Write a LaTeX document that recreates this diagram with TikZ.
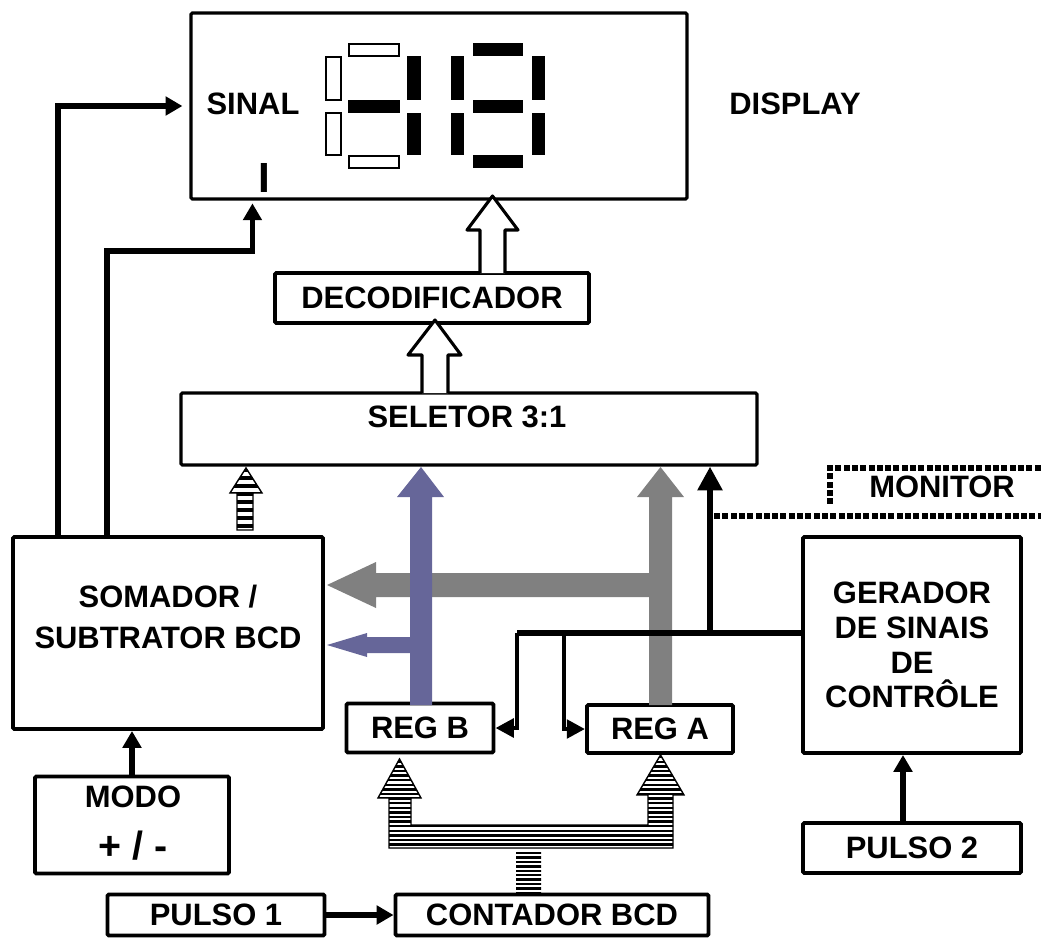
\documentclass[tikz,border=0pt]{standalone}
\usepackage{fontspec}
\setmainfont{Liberation Sans}
\usetikzlibrary{arrows.meta,calc}
\definecolor{bbus}{HTML}{666699}
\definecolor{abus}{HTML}{808080}

\begin{document}
\begin{tikzpicture}[x=0.025cm,y=-0.025cm,
  font=\bfseries\fontsize{22}{25}\selectfont,
  box/.style={draw,line width=2.8pt,rounded corners=1pt,fill=white,inner sep=0pt,align=center},
  sz/.style 2 args={minimum width=#1*0.025cm,minimum height=#2*0.025cm},
  conn/.style={line width=4.2pt,-{Triangle[length=12pt,width=13pt]}},
  ctlarr/.style={line width=3.2pt,-{Triangle[length=13pt,width=13pt]}},
  hollow/.style={draw,line width=2.2pt,fill=white,line join=round}]
  \useasboundingbox (0,0) rectangle (1041,942);

  % Display with the two digits
  \node[box,sz={496}{186},line width=2.2pt] (disp) at (439,106) {};
  \node (sinal) at (253,104) {SINAL};
  \node (sinbar) at (264,178) {\fontsize{30}{30}\selectfont I};
  \node (disptxt) at (795,104) {DISPLAY};
  \foreach \xa/\ya/\xb/\yb in {349/44/399/56, 326/57/341/100, 326/113/341/155, 349/156/399/168}
    \draw[line width=1.4pt] (\xa,\ya) rectangle (\xb,\yb);
  \foreach \xa/\ya/\xb/\yb in {
    348/100/400/113, 407/56/421/100, 407/113/421/155,
    473/43/523/56, 451/56/464/100, 532/56/545/100, 473/100/523/113,
    451/113/464/155, 532/113/545/155, 473/155/523/168}
    \fill (\xa,\ya) rectangle (\xb,\yb);

  % Blocks
  \node[box,sz={314}{50}] (dec) at (432,298) {DECODIFICADOR};
  \node[box,sz={576}{72},line width=2.2pt] (sel) at (469,429) {};
  \node (seltxt) at (467,417) {SELETOR 3:1};
  \node[box,sz={310}{192}] (soma) at (168,633) {};
  \node[align=center,font=\bfseries\fontsize{22}{29}\selectfont] (somatxt) at (168,617) {SOMADOR /\\SUBTRATOR BCD};
  \node[box,sz={147}{49}] (regb) at (420,728) {REG B};
  \node[box,sz={146}{48}] (rega) at (660,729) {REG A};
  \node[box,sz={194}{97}] (modo) at (132,825) {};
  \node (modotxt) at (133,797) {MODO};
  \node (modosig) at (133,846) {\fontsize{28}{28}\selectfont + / -};
  \node[box,sz={217}{41}] (p1) at (216,915) {PULSO 1};
  \node[box,sz={313}{41}] (cont) at (552,915) {CONTADOR BCD};
  \node[box,sz={218}{216},font=\bfseries\fontsize{22}{24.8}\selectfont] (ger) at (912,645) {GERADOR\\DE SINAIS\\DE\\CONTRÔLE};
  \node[box,sz={218}{50}] (p2) at (912,848) {PULSO 2};
  \node (mon) at (942,487) {MONITOR};

  % Wide buses
  \draw[hollow] (480,273) -- (480,230) -- (467,230) -- (492.5,196) -- (518,230) -- (505,230) -- (505,273);
  \draw[hollow] (422,393) -- (422,355) -- (408,355) -- (435,320) -- (461,355) -- (448,355) -- (448,393);
  \fill[abus] (649,705) -- (649,597) -- (376,597) -- (376,608) -- (327,585) -- (376,562) -- (376,573)
    -- (649,573) -- (649,497) -- (637,497) -- (660.5,467) -- (684,497) -- (672,497) -- (672,705) -- cycle;
  \fill[bbus] (410,705) -- (410,653) -- (367,653) -- (367,657) -- (327,645) -- (367,633) -- (367,637)
    -- (410,637) -- (410,497) -- (397,497) -- (421,467) -- (444,497) -- (432,497) -- (432,705) -- cycle;

  % Striped buses
  \draw[line width=1pt,path picture={
      \foreach \y in {468,476,...,532} \fill (225,\y) rectangle (270,\y+4);}]
    (237,530) -- (237,493) -- (230,493) -- (246,468) -- (262,493) -- (253,493) -- (253,530) -- cycle;
  \draw[line width=1pt,path picture={
      \foreach \y in {756,760.6,...,852} \fill (370,\y) rectangle (700,\y+2.3);}]
    (389,848) -- (389,798) -- (378,798) -- (399.5,759) -- (421,798) -- (411,798) -- (411,825)
    -- (648,825) -- (648,795) -- (637,795) -- (660.5,755) -- (684,795) -- (673,795) -- (673,848) -- cycle;
  \path[path picture={
      \foreach \y in {852,856.4,...,896} \fill (510,\y) rectangle (550,\y+2.3);}]
    (516,852) rectangle (541,895);

  % Control lines
  \coordinate (cl) at (517,633);
  \coordinate (cm) at (564,633);
  \coordinate (cb) at (710,633);
  \draw[line width=4.6pt] (ger.west |- cb) -- (cl);
  \draw[ctlarr] (cl) |- (regb.east);
  \draw[ctlarr] (cm) |- (rega.west);
  \draw[ctlarr,line width=4.6pt,-{Triangle[length=17pt,width=17pt]}] (cb) -- (cb |- sel.south);

  % Monitor (dotted)
  \foreach \x in {714,722.3,...,1041} \fill (\x,513) rectangle ++(6,6);
  \foreach \x in {835.3,843.6,...,1041} \fill (\x,465) rectangle ++(6,6);
  \foreach \y in {465,473.3,...,505} \fill (827,\y) rectangle ++(6,6);

  % Signal connectors
  \draw[conn,shorten >=5pt] ($(soma.north west)+(47,0)$) |- (disp.west);
  \draw[conn,shorten >=2pt] ($(soma.north west)+(96,0)$) -- ++(0,-284) -| ($(disp.south west)+(63,0)$);
  \draw[conn] (modo.north) -- (modo.north |- soma.south);
  \draw[conn] (p1.east) -- (cont.west);
  \draw[conn] ($(p2.north)+(-9,0)$) -- ($(ger.south)+(-9,0)$);
\end{tikzpicture}
\end{document}
